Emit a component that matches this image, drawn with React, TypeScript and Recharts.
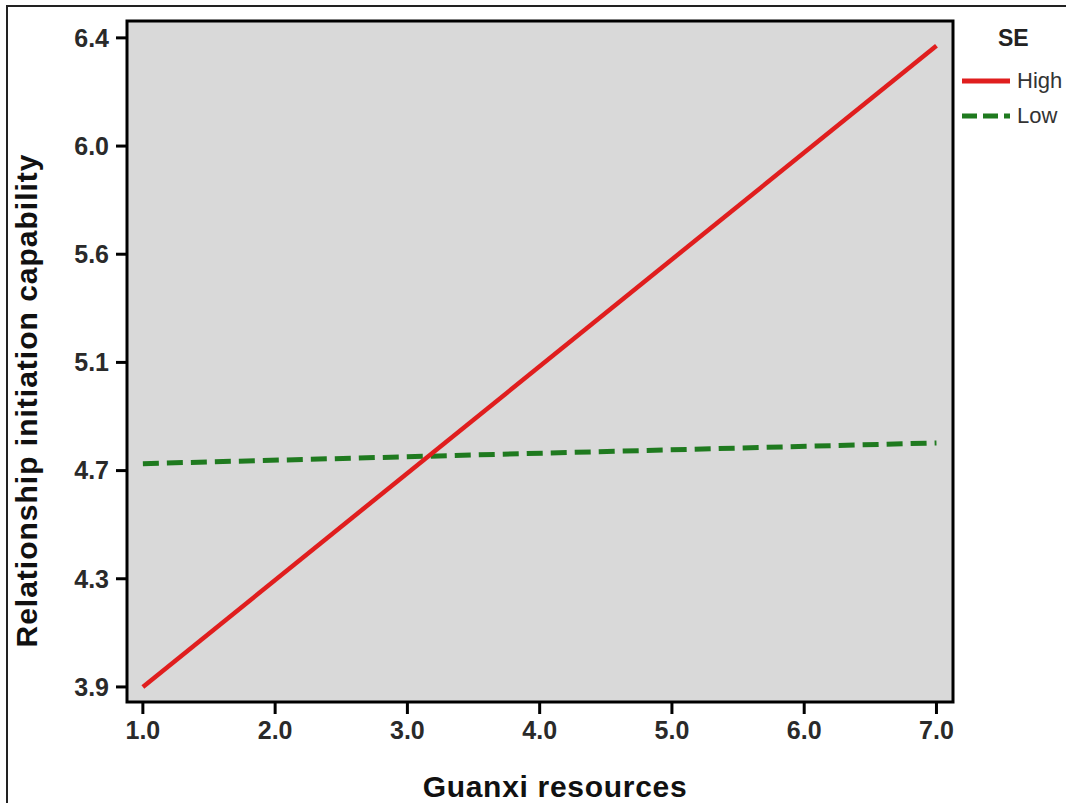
import React from "react";
import {
  LineChart,
  Line,
  XAxis,
  YAxis,
  ReferenceArea,
} from "recharts";

// Guanxi resources (x) vs relationship initiation capability (y), moderated by SE
const guanxi = [1, 7];
const seHigh = [3.9, 6.37];
const seLow = [4.76, 4.84];

const xTicks = [1, 2, 3, 4, 5, 6, 7];
const yTicks = [3.9, 4.3167, 4.7333, 5.15, 5.5667, 5.9833, 6.4];
const yTickLabels = ["3.9", "4.3", "4.7", "5.1", "5.6", "6.0", "6.4"];

const xDomain: [number, number] = [0.88, 7.125];
const yDomain: [number, number] = [3.842, 6.465];

const RED = "#e01e1e";
const GREEN = "#1f7a1f";
const FONT = "'Liberation Sans', Arial, sans-serif";

const data = guanxi.map((x, i) => ({ x, high: seHigh[i], low: seLow[i] }));

const legendItems = [
  { name: "High", color: RED, dash: undefined as string | undefined },
  { name: "Low", color: GREEN, dash: "15 6" },
];

// legend drawn as html, recharts' Legend would eat into the plot width
function SeLegend() {
  return (
    <div style={{ position: "absolute", left: 960, top: 25, fontFamily: FONT }}>
      <div
        style={{
          fontWeight: 700,
          fontSize: 23,
          color: "#222",
          marginLeft: 38,
          lineHeight: "26px",
          marginBottom: 12,
        }}
      >
        SE
      </div>
      {legendItems.map((it) => (
        <div key={it.name} style={{ display: "flex", alignItems: "center", height: 35 }}>
          <svg width={52} height={10}>
            <line x1={2} y1={5} x2={50} y2={5} stroke={it.color} strokeWidth={5} strokeDasharray={it.dash} />
          </svg>
          <span style={{ fontSize: 22, color: "#333", marginLeft: 5 }}>{it.name}</span>
        </div>
      ))}
    </div>
  );
}

const YTitle = (props: any) => {
  const { viewBox } = props;
  const cx = viewBox.x + 10;
  const cy = viewBox.y + viewBox.height / 2 + 39;
  return (
    <text
      x={cx}
      y={cy}
      transform={`rotate(-90 ${cx} ${cy})`}
      textAnchor="middle"
      fontFamily={FONT}
      fontWeight={700}
      fontSize={30}
      letterSpacing={1}
      fill="#111"
    >
      Relationship initiation capability
    </text>
  );
};

const XTitle = (props: any) => {
  const { viewBox } = props;
  const cx = viewBox.x + viewBox.width / 2 + 15;
  const cy = viewBox.y + 95;
  return (
    <text x={cx} y={cy} textAnchor="middle" fontFamily={FONT} fontWeight={700} fontSize={30} letterSpacing={0.7} fill="#111">
      Guanxi resources
    </text>
  );
};

const tickStyle = { fontFamily: FONT, fontWeight: 700, fontSize: 25, fill: "#2a2a2a" };

export default function App() {
  return (
    <div
      style={{
        position: "absolute",
        left: 0,
        top: 0,
        width: 1066,
        height: 803,
        overflow: "hidden",
        background: "#fff",
      }}
    >
      <div
        style={{
          position: "absolute",
          left: 6,
          top: 5,
          width: 1100,
          height: 850,
          borderLeft: "2px solid #222",
          borderTop: "2px solid #222",
        }}
      />
      <LineChart
        width={1066}
        height={803}
        data={data}
        margin={{ top: 21, right: 113, left: 27, bottom: 41 }}
        style={{ position: "absolute", left: 0, top: 0 }}
      >
        <XAxis
          dataKey="x"
          type="number"
          domain={xDomain}
          ticks={xTicks}
          tickFormatter={(v: number) => v.toFixed(1)}
          axisLine={false}
          tickLine={{ stroke: "#000", strokeWidth: 3 }}
          tickSize={12}
          tickMargin={7}
          tick={tickStyle}
          height={60}
          allowDataOverflow
          label={<XTitle />}
        />
        <YAxis
          type="number"
          domain={yDomain}
          ticks={yTicks}
          tickFormatter={(v: number) => yTickLabels[yTicks.indexOf(v)] ?? v.toFixed(1)}
          axisLine={false}
          tickLine={{ stroke: "#000", strokeWidth: 3 }}
          tickSize={11}
          tickMargin={7}
          tick={tickStyle}
          width={100}
          allowDataOverflow
          label={<YTitle />}
        />
        <ReferenceArea
          x1={xDomain[0]}
          x2={xDomain[1]}
          y1={yDomain[0]}
          y2={yDomain[1]}
          fill="#d9d9d9"
          fillOpacity={1}
          stroke="#000"
          strokeWidth={3}
          ifOverflow="visible"
        />
        <Line
          type="linear"
          dataKey="low"
          stroke={GREEN}
          strokeWidth={5}
          strokeDasharray="16 8"
          dot={false}
          isAnimationActive={false}
        />
        <Line
          type="linear"
          dataKey="high"
          stroke={RED}
          strokeWidth={4.5}
          dot={false}
          isAnimationActive={false}
        />
      </LineChart>
      <SeLegend />
    </div>
  );
}
